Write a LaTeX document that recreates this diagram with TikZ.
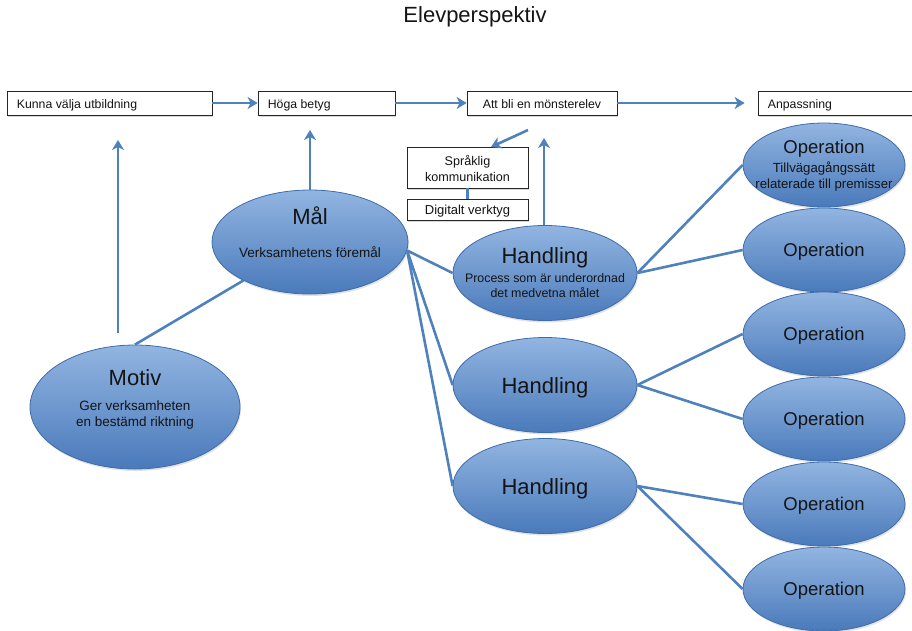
\documentclass[tikz,border=0pt]{standalone}
\usepackage{fontspec}
\setmainfont{Liberation Sans}
\usetikzlibrary{shapes.geometric,arrows.meta,shadows,calc}

\definecolor{linkblue}{RGB}{79,129,189}
\definecolor{ovaltop}{RGB}{146,181,225}
\definecolor{ovalbot}{RGB}{74,122,187}
\definecolor{ovalline}{RGB}{62,108,170}
\definecolor{inktext}{RGB}{20,20,20}

\begin{document}
\begin{tikzpicture}[x=1pt,y=-1pt,
  oval/.style={ellipse, draw=ovalline, line width=0.8pt,
    top color=ovaltop, bottom color=ovalbot, inner sep=0pt,
    drop shadow={opacity=0.22, shadow xshift=1pt, shadow yshift=-2pt}},
  opoval/.style={oval, minimum width=162pt, minimum height=84pt},
  hoval/.style={oval, minimum width=184pt, minimum height=95pt},
  stepbox/.style={rectangle, draw=black!85, line width=0.8pt, fill=white,
    minimum height=24pt, inner sep=0pt,
    drop shadow={opacity=0.3, shadow xshift=1pt, shadow yshift=-1.5pt}},
  boxtext/.style={font=\fontsize{12.3}{14}\selectfont, text=inktext, inner sep=0pt},
  toolbox/.style={rectangle, draw=black!85, line width=0.8pt, fill=white,
    minimum width=121pt, inner sep=0pt,
    drop shadow={opacity=0.3, shadow xshift=1pt, shadow yshift=-1.5pt}},
  tooltext/.style={font=\fontsize{12.6}{16}\selectfont, text=inktext, inner sep=0pt, align=center},
  head/.style={font=\fontsize{22}{26}\selectfont, text=inktext, inner sep=0pt},
  ophead/.style={font=\fontsize{18.5}{22}\selectfont, text=inktext, inner sep=0pt},
  note/.style={font=\fontsize{13.5}{16}\selectfont, text=inktext, align=center, inner sep=0pt},
  link/.style={draw=linkblue, line width=2.6pt},
  flow/.style={link, -{Stealth[length=10pt,width=12pt,inset=3pt]}},
]
\useasboundingbox (0,0) rectangle (912,630);

% title
\node[head] (title) at (475,17) {Elevperspektiv};

% top row of goals
\node[stepbox, minimum width=205pt] (b1) at (109.5,103) {};
\node[stepbox, minimum width=137pt] (b2) at (326.5,103) {};
\node[stepbox, minimum width=150pt] (b3) at (542,103) {};
\node[stepbox, minimum width=164pt] (b4) at (840,103) {};
\node[boxtext, anchor=base west] (b1T) at ($(b1.west)+(10,5.2)$) {Kunna välja utbildning};
\node[boxtext, anchor=base west] (b2T) at ($(b2.west)+(10,5.2)$) {Höga betyg};
\node[boxtext, anchor=base] (b3T) at ($(b3.center)+(0,5.2)$) {Att bli en mönsterelev};
\node[boxtext, anchor=base west] (b4T) at ($(b4.west)+(10,5.2)$) {Anpassning};

% tools
\node[toolbox, minimum height=41pt] (sprak) at (467.5,167.5) {};
\node[toolbox, minimum height=21pt] (digi) at (467.5,209.5) {};
\node[tooltext] (sprakT) at ($(sprak.center)+(0,1)$) {Språklig\\kommunikation};
\node[tooltext, font=\fontsize{13}{15}\selectfont, anchor=base] (digiT) at ($(digi.center)+(0,4.8)$) {Digitalt verktyg};

% activity ovals
\node[oval, minimum width=210pt, minimum height=124pt] (motiv) at (135,407) {};
\node[oval, minimum width=196pt, minimum height=104pt] (mal) at (310,242) {};
\node[hoval] (h1) at (545,273) {};
\node[hoval] (h2) at (545,385) {};
\node[hoval] (h3) at (545,486) {};
\node[opoval] (op1) at (824,165) {};
\node[opoval] (op2) at (824,250) {};
\node[opoval] (op3) at (824,334) {};
\node[opoval] (op4) at (824,419) {};
\node[opoval] (op5) at (824,504) {};
\node[opoval] (op6) at (824,589) {};

% oval texts
\node[head] (motivT) at (135,378) {Motiv};
\node[note] (motivS) at (135,415) {Ger verksamheten\\en bestämd riktning};
\node[head] (malT) at (310,216) {Mål};
\node[note] (malS) at (310,252) {Verksamhetens föremål};
\node[head] (h1T) at (545,258) {Handling};
\node[note, font=\fontsize{12.4}{15}\selectfont] (h1S) at (545,286) {Process som är underordnad\\det medvetna målet};
\node[head] (h2T) at (545,388) {Handling};
\node[head] (h3T) at (545,489) {Handling};
\node[ophead] (op1T) at (824,149) {Operation};
\node[note, font=\fontsize{13.2}{16}\selectfont] (op1S) at (824,177) {Tillvägagångssätt\\relaterade till premisser};
\node[ophead] (op2T) at (824,252) {Operation};
\node[ophead] (op3T) at (824,336) {Operation};
\node[ophead] (op4T) at (824,421) {Operation};
\node[ophead] (op5T) at (824,506) {Operation};
\node[ophead] (op6T) at (824,591) {Operation};

% free ends of the upward arrows
\coordinate (motivUp) at (118,333);
\coordinate (motivTip) at (118,140);
\coordinate (malTip) at (310,130);
\coordinate (h1Tip) at (544,138);
\coordinate (diagStart) at (528,130);
\coordinate (diagTip) at (491,147);

% arrows along the top row
\draw[flow] (b1.east) -- (b2.west);
\draw[flow] (b2.east) -- (b3.west);
\draw[flow, shorten >=13pt] (b3.east) -- (b4.west);

% upward arrows
\draw[flow] (motivUp) -- (motivTip);
\draw[flow] (mal.north) -- (malTip);
\draw[flow] (h1.north -| h1Tip) -- (h1Tip);
\draw[flow] (diagStart) -- (diagTip);
\draw[link] (sprak.south) -- (digi.north);

% hierarchy links
\draw[link] (motiv.north) -- (mal.210);
\draw[link] (mal.-5) -- (h1.west);
\draw[link] (mal.-5) -- (h2.west);
\draw[link] (mal.-5) -- (h3.west);
\draw[link] (h1.east) -- (op1.west);
\draw[link] (h1.east) -- (op2.west);
\draw[link] (h2.east) -- (op3.west);
\draw[link] (h2.east) -- (op4.west);
\draw[link] (h3.east) -- (op5.west);
\draw[link] (h3.east) -- (op6.west);
\end{tikzpicture}
\end{document}
